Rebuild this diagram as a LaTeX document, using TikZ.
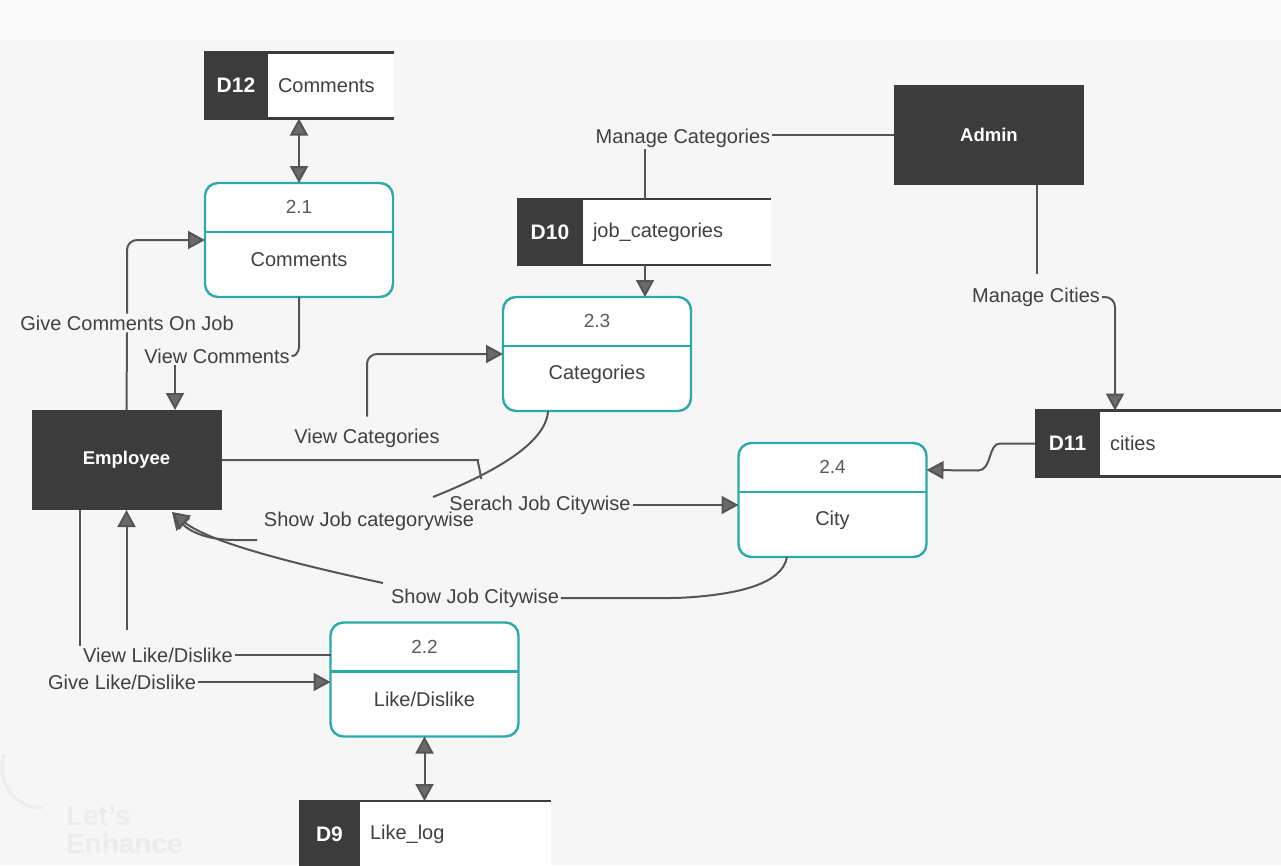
\documentclass[tikz,border=0pt]{standalone}
\usepackage{fontspec}
\setmainfont{Liberation Sans}
\usetikzlibrary{arrows.meta,calc}
\definecolor{bgc}{HTML}{F6F6F6}
\definecolor{topc}{HTML}{FAFAFA}
\definecolor{darkbox}{HTML}{3C3C3C}
\definecolor{tealc}{HTML}{2AAAA8}
\definecolor{linec}{HTML}{555555}
\definecolor{arrc}{HTML}{6A6A6A}
\definecolor{txtc}{HTML}{404040}
\definecolor{numc}{HTML}{5A5A5A}
\definecolor{wmc}{HTML}{ECECEC}

\newcommand\dstore[7]{%
  \node[sid, minimum width=#4] (#1id) at (#2,#3) {#6};
  \node[sname, minimum width=#5] (#1) at (#1id.east) {};
  \node[lbl, anchor=west] (#1txt) at ([xshift=8pt]#1.west) {#7};
  \draw[sline] (#1id.north west) -- (#1.north east);
  \draw[sline] (#1id.south west) -- (#1.south east);
}
\newcommand\dproc[5]{%
  \node[proc] (#1) at (#2,#3) {};
  \draw[draw=tealc, line width=2.4pt] ([yshift=-49pt]#1.north west) -- ([yshift=-49pt]#1.north east);
  \node[numt] (#1num) at ([yshift=-24pt]#1.north) {#4};
  \node[lbl] (#1txt) at ([yshift=-77pt]#1.north) {#5};
}

\begin{document}
\begin{tikzpicture}[x=1pt,y=-1pt,
  every node/.style={inner sep=0pt, outer sep=0pt},
  ent/.style={fill=darkbox, minimum width=190pt, minimum height=100pt, text=white, font=\fontsize{18.5}{22}\selectfont\bfseries},
  proc/.style={draw=tealc, line width=2.4pt, rounded corners=13pt, fill=white, minimum width=188pt, minimum height=114pt},
  sid/.style={fill=darkbox, text=white, font=\fontsize{21}{24}\selectfont\bfseries, minimum height=66pt},
  sname/.style={fill=white, minimum height=66pt, anchor=west},
  sline/.style={draw=darkbox, line width=2.5pt},
  lbl/.style={text=txtc, font=\fontsize{20}{24}\selectfont, inner sep=2pt},
  numt/.style={text=numc, font=\fontsize{19}{22}\selectfont, inner sep=2pt},
  flow/.style={draw=linec, line width=2pt, rounded corners=10pt},
  arr/.style={flow, -{Triangle[length=17pt,width=18pt,fill=arrc]}},
  darr/.style={flow, {Triangle[length=17pt,width=18pt,fill=arrc]}-{Triangle[length=17pt,width=18pt,fill=arrc]}},
]
\useasboundingbox (0,0) rectangle (1281,865);
\fill[bgc] (0,0) rectangle (1281,865);
\fill[topc] (0,0) rectangle (1281,40);

% watermark
\draw[wmc, line width=3pt] (42,808) arc (90:200:40);
\node[text=wmc, font=\fontsize{28}{28}\selectfont\bfseries, align=left, anchor=north west] (wm) at (66,806) {Let's\\Enhance};

% entities
\node[ent] (emp) at (126.5,460) {Employee};
\node[ent] (admin) at (989,134.5) {Admin};

% processes
\dproc{p21}{299}{240}{2.1}{Comments}
\dproc{p23}{597}{354}{2.3}{Categories}
\dproc{p24}{832.5}{500}{2.4}{City}
\dproc{p22}{424.5}{679.5}{2.2}{Like/Dislike}

% data stores
\dstore{d12}{236}{85.5}{64pt}{126pt}{D12}{Comments}
\dstore{d10}{550}{232}{66pt}{188pt}{D10}{job\_categories}
\dstore{d11}{1067.5}{443.5}{65pt}{190pt}{D11}{cities}
\dstore{d9}{329.5}{834}{61pt}{191pt}{D9}{Like\_log}

% labels
\node[lbl] (lGiveCom) at (127,323) {Give Comments On Job};
\node[lbl] (lViewCom) at (217,356) {View Comments};
\node[lbl] (lManCat) at (683,138) {Manage Categories};
\node[lbl] (lViewCat) at (367,438) {View Categories};
\node[lbl] (lSearch) at (540,505) {Serach Job Citywise};
\node[lbl] (lShowCat) at (369,521) {Show Job categorywise};
\node[lbl] (lShowCity) at (475,598) {Show Job Citywise};
\node[lbl] (lManCity) at (1036,297) {Manage Cities};
\node[lbl] (lViewLike) at (158,655) {View Like/Dislike};
\node[lbl] (lGiveLike) at (122,682) {Give Like/Dislike};

% helper coordinates
\coordinate (c80) at (80,0);
\coordinate (c175) at (175,0);
\coordinate (c548) at (548,0);
\coordinate (c645) at (645,0);
\coordinate (c787) at (787,0);
\coordinate (c1037) at (1037,0);
\coordinate (c1115) at (1115,0);
\coordinate (c470) at (468,0);
\coordinate (sEnd) at (481,479);
\coordinate (scEnd) at (433,497);
\coordinate (scStart) at (257,540);
\coordinate (scityStart) at (383,583);
\coordinate (empTip) at (172,512);
\coordinate (vlStart) at (126.5,630);

% connectors
\draw[darr] (d12.south -| p21.north) -- (p21.north);
\draw[flow] (emp.north) -- (lGiveCom.south);
\draw[arr] (lGiveCom.north) |- (p21.west);
\draw[flow] (p21.south) -- ++(0,40) to[out=-90,in=0] (lViewCom.east);
\draw[arr] (lViewCom.south -| c175) -- (emp.north -| c175);

\draw[flow] (admin.west) -- (admin.west -| lManCat.east);
\draw[flow] (lManCat.south -| c645) -- (d10.north -| c645);
\draw[arr] (d10.south -| c645) -- (p23.north -| c645);

\draw[flow, shorten >=12pt] (admin.south -| c1037) -- (lManCity.north -| c1037);
\draw[arr] (lManCity.east) -| (d11.north -| c1115);
\draw[arr, rounded corners=0pt] (d11id.west) -- (1000,443.5) .. controls (988,443.5) and (992,470.5) .. (978,470.5) -- ([yshift=-27pt]p24.north east);

\draw[flow] (emp.east) -- (emp.east -| c470) to[out=0,in=95] (sEnd);
\draw[arr] (lSearch.east) -- (lSearch.east -| p24.west);

\draw[arr, shorten <=10pt] (lViewCat.north) |- (p23.west);

\draw[flow] (p23.south -| c548) .. controls (546,445) and (488,475) .. (scEnd);
\draw[arr, rounded corners=0pt] (scStart) -- (235,540) .. controls (205,540) and (188,530) .. (empTip);

\draw[flow] (p24.south -| c787) .. controls (782,585) and (735,594) .. (680,598) -- (lShowCity.east);
\draw[arr] (scityStart) .. controls (300,565) and (210,543) .. (empTip);

\draw[flow] (emp.south -| c80) -- (lViewLike.north -| c80);
\draw[flow] (lViewLike.east) -- (lViewLike.east -| p22.west);
\draw[arr] (vlStart) -- (emp.south);
\draw[arr] (lGiveLike.east) -- (lGiveLike.east -| p22.west);

\draw[darr] (p22.south) -- (p22.south |- d9.north);
\end{tikzpicture}
\end{document}
